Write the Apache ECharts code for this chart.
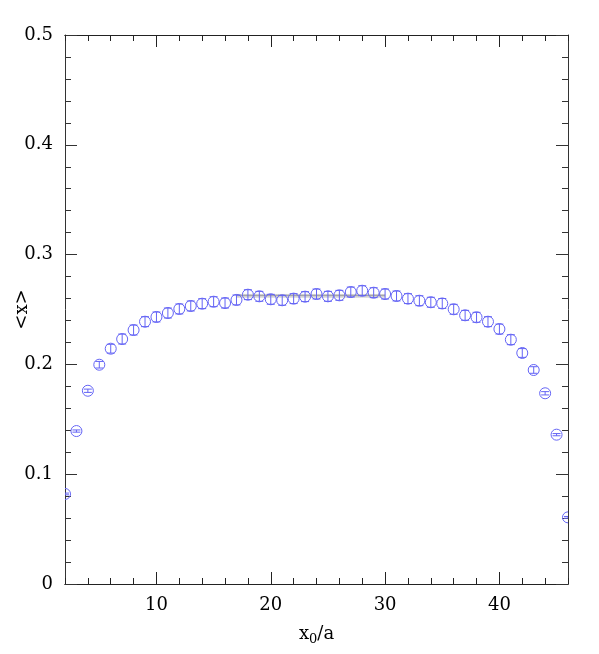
<!DOCTYPE html>
<html lang="en">
<head>
    <meta charset="UTF-8">
    <title>chart</title>
    <style>
        body{margin:0;background:#fff;}
        #mychart{width:599px;height:654px;}
    </style>
</head>
<body>
    <div id="mychart"></div>
    <script src="https://cdn.jsdelivr.net/npm/echarts@6/dist/echarts.min.js"></script>
    <script>
        // data
        var xs=[2,3,4,5,6,7,8,9,10,11,12,13,14,15,16,17,18,19,20,21,22,23,24,25,26,27,28,29,30,31,32,33,34,35,36,37,38,39,40,41,42,43,44,45,46]
        var ys=[0.082,0.1393,0.176,0.1997,0.2143,0.2231,0.2313,0.2389,0.2432,0.2468,0.2505,0.2532,0.2553,0.2571,0.2559,0.2587,0.2635,0.262,0.2593,0.2584,0.2599,0.2617,0.2641,0.262,0.2629,0.2659,0.2671,0.2653,0.2641,0.2623,0.2599,0.258,0.2566,0.2555,0.2502,0.2447,0.2429,0.2389,0.2322,0.2225,0.2104,0.1949,0.1737,0.136,0.0607]
        var errs=[0.0008,0.001,0.0015,0.003,0.004,0.0045,0.0045,0.0045,0.0045,0.0045,0.0045,0.0045,0.0045,0.0045,0.0045,0.0045,0.0045,0.0045,0.0045,0.0045,0.0045,0.0045,0.0045,0.0045,0.0045,0.0045,0.0045,0.0045,0.0045,0.0045,0.0045,0.0045,0.0045,0.0045,0.0045,0.0045,0.0045,0.0045,0.0045,0.0045,0.004,0.003,0.0015,0.001,0.0008]
        var fitX=[17,30]//fit range
        var fitY=0.2625
        var fitErr=0.0012
        var xMajor=[10,20,30,40]
        var xMinor=[2,4,6,8,12,14,16,18,22,24,26,28,32,34,36,38,42,44,46]

        var col='#6464f5'
        var fnt='DejaVu Serif'

        var myChart=echarts.init(document.getElementById('mychart'))

        var pts=[]
        for(let i=0;i<xs.length;i++){
            pts.push([xs[i],ys[i],errs[i]])
        }
        var fitLine=[[fitX[0],fitY],[fitX[1],fitY]]
        var fitHi=[[fitX[0],fitY+fitErr],[fitX[1],fitY+fitErr]]
        var fitLo=[[fitX[0],fitY-fitErr],[fitX[1],fitY-fitErr]]

        function xaxis(pos,vals,len,show){
            return {
                type:'value',min:2,max:46,position:pos,
                axisLine:{show:true,lineStyle:{color:'#222',width:1}},
                axisTick:{show:true,inside:true,length:len,customValues:vals,lineStyle:{color:'#222'}},
                axisLabel:{show:show,customValues:vals,margin:12,color:'#000',fontFamily:fnt,fontSize:18},
                splitLine:{show:false}
            }
        }
        function yaxis(pos,show){
            return {
                type:'value',min:0,max:0.5,interval:0.1,position:pos,
                axisLine:{show:true,lineStyle:{color:'#333',width:1}},
                axisTick:{show:true,inside:true,length:12,lineStyle:{color:'#333'}},
                minorTick:{show:true,splitNumber:5,length:6,lineStyle:{color:'#333'}},
                axisLabel:{show:show,margin:12,color:'#000',fontFamily:fnt,fontSize:18},
                splitLine:{show:false},minorSplitLine:{show:false}
            }
        }

        var xa0=xaxis('bottom',xMajor,12,true)
        xa0.name='{a|x}{s|0}{a|/a}'
        xa0.nameLocation='middle'
        xa0.nameGap=39
        xa0.nameMoveOverlap=false
        xa0.nameTextStyle={rich:{a:{fontFamily:fnt,fontSize:18,color:'#000'},s:{fontFamily:fnt,fontSize:13,color:'#000',padding:[10,0,0,0]}}}

        var ya0=yaxis('left',true)
        ya0.name='<x>'
        ya0.nameLocation='middle'
        ya0.nameRotate=90
        ya0.nameGap=34
        ya0.nameMoveOverlap=false
        ya0.nameTextStyle={fontFamily:fnt,fontSize:18,color:'#000'}

        var option={
            animation:false,
            grid:{left:65,right:31,top:35,bottom:70,containLabel:false,outerBoundsMode:'none'},
            xAxis:[xa0,xaxis('bottom',xMinor,6,false),xaxis('top',xMajor,12,false),xaxis('top',xMinor,6,false)],
            yAxis:[ya0,yaxis('right',false)],
            series:[
                {type:'line',data:fitLine,symbol:'none',lineStyle:{color:'#888',width:1},z:1},
                {type:'line',data:fitHi,symbol:'none',lineStyle:{color:'#999',width:1,type:'dotted'},z:1},
                {type:'line',data:fitLo,symbol:'none',lineStyle:{color:'#999',width:1,type:'dotted'},z:1},
                {
                    type:'custom',data:pts,clip:true,z:2,
                    renderItem:function(params,api){
                        let x=api.value(0),y=api.value(1),e=api.value(2)
                        let c=api.coord([x,y])
                        let t=api.coord([x,y+e])[1]
                        let b=api.coord([x,y-e])[1]
                        let st={stroke:col,lineWidth:1,fill:null}
                        return {type:'group',children:[
                            {type:'circle',shape:{cx:c[0],cy:c[1],r:5.5},style:{stroke:col,lineWidth:1,fill:'none'}},
                            {type:'line',shape:{x1:c[0],y1:t,x2:c[0],y2:b},style:st},
                            {type:'line',shape:{x1:c[0]-4,y1:t,x2:c[0]+4,y2:t},style:st},
                            {type:'line',shape:{x1:c[0]-4,y1:b,x2:c[0]+4,y2:b},style:st}
                        ]}
                    }
                }
            ]
        }
        myChart.setOption(option)
    </script>
</body>
</html>
